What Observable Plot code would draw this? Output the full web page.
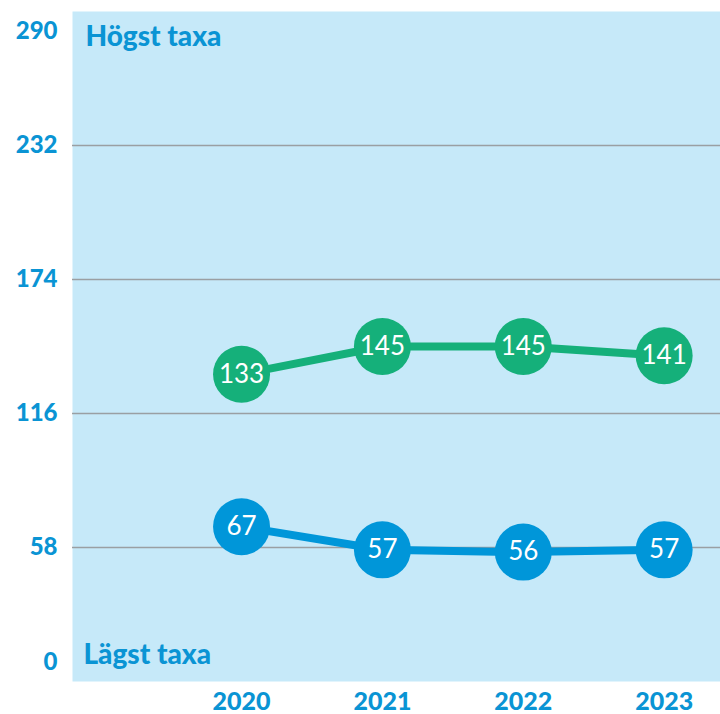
<!DOCTYPE html>
<html>
<head>
<meta charset="utf-8">
<script src="https://cdn.jsdelivr.net/npm/d3@7"></script>
<script src="https://cdn.jsdelivr.net/npm/@observablehq/plot@0.6"></script>
<style>
  html, body { margin: 0; padding: 0; background: #fff; }
  #chart svg { display: block; }
</style>
</head>
<body>
<div id="chart"></div>
<script>
const years = [2020, 2021, 2022, 2023];
const highValues = [133, 145, 145, 141];
const lowValues = [67, 57, 56, 57];
const yTicks = [0, 58, 116, 174, 232, 290];
const gridTicks = [58, 116, 174, 232];
const highLabel = "Högst taxa";
const lowLabel = "Lägst taxa";

const high = years.map((y, i) => ({year: y, value: highValues[i]}));
const low = years.map((y, i) => ({year: y, value: lowValues[i]}));

const blue = "#0096d9";
const green = "#15b07a";
const textBlue = "#0a94d4";
const font = "Lato, 'Open Sans', sans-serif";
const heavy = "900";

const innerTicks = yTicks.filter(d => d !== 0 && d !== 290);
const tickText = (data, dy) => Plot.text(data, {
  y: d => d, frameAnchor: "left", dx: -15, dy, textAnchor: "end", lineAnchor: "middle",
  text: d => String(d), fill: textBlue, fontSize: 24, fontWeight: heavy
});

const chart = Plot.plot({
  width: 720,
  height: 714,
  marginLeft: 72,
  marginRight: 0,
  marginTop: 11,
  marginBottom: 33,
  style: {fontFamily: font, background: "#fff"},
  x: {type: "linear", domain: [2018.8, 2023.4], axis: null},
  y: {domain: [0, 290], axis: null},
  marks: [
    Plot.frame({fill: "#c6e9f9", stroke: null}),
    Plot.ruleY(gridTicks, {stroke: "#9a9fa3", strokeWidth: 1.5}),
    tickText(innerTicks, 0),
    tickText(yTicks.filter(d => d === 290), 20),
    tickText(yTicks.filter(d => d === 0), -19),
    Plot.text(years, {
      x: d => d, frameAnchor: "bottom", dy: 20, lineAnchor: "middle",
      text: d => String(d), fill: textBlue, fontSize: 25, fontWeight: heavy
    }),
    Plot.text([highLabel], {frameAnchor: "top-left", dx: 13, dy: 26, textAnchor: "start", lineAnchor: "middle", fill: textBlue, fontSize: 28, fontWeight: heavy}),
    Plot.text([lowLabel], {frameAnchor: "bottom-left", dx: 11, dy: -26, textAnchor: "start", lineAnchor: "middle", fill: textBlue, fontSize: 28, fontWeight: heavy}),
    Plot.line(high, {x: "year", y: "value", stroke: green, strokeWidth: 8}),
    Plot.line(low, {x: "year", y: "value", stroke: blue, strokeWidth: 8}),
    Plot.dot(high, {x: "year", y: "value", r: 28.5, fill: green, stroke: null}),
    Plot.dot(low, {x: "year", y: "value", r: 28.5, fill: blue, stroke: null}),
    Plot.text(high, {x: "year", y: "value", text: d => String(d.value), fill: "#fff", fontSize: 26}),
    Plot.text(low, {x: "year", y: "value", text: d => String(d.value), fill: "#fff", fontSize: 26})
  ]
});

document.getElementById("chart").appendChild(chart);
</script>
</body>
</html>
